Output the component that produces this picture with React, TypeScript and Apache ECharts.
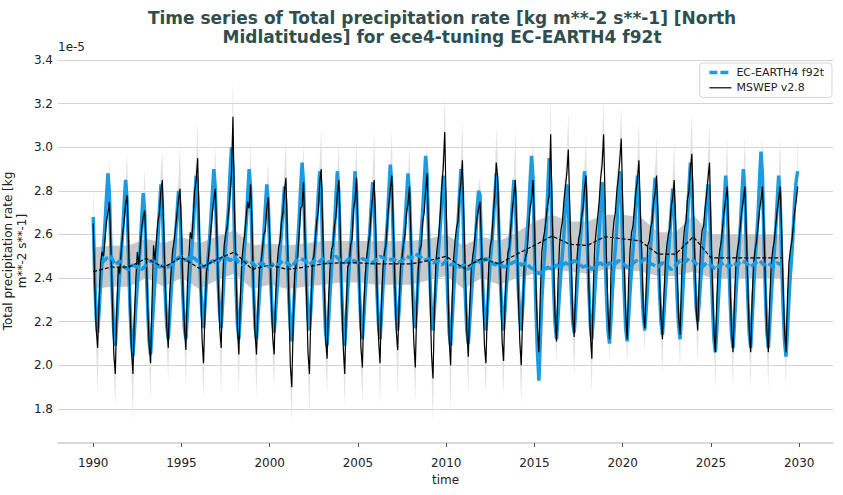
import React, { useEffect, useRef } from "react";
import * as echarts from "echarts";

// ---------- data (units of 1e-5 kg m**-2 s**-1) ----------
const START_YEAR = 1990;
const xTickYears = [1990, 1995, 2000, 2005, 2010, 2015, 2020, 2025, 2030];
const yTickValues = [1.8, 2.0, 2.2, 2.4, 2.6, 2.8, 3.0, 3.2, 3.4];

// EC-EARTH4 f92t, monthly, Jan 1990 .. Dec 2029
const ecEarthMonthly = [
  2.68, 2.40, 2.22, 2.15, 2.25, 2.37, 2.47, 2.55, 2.65, 2.77, 2.88, 2.79,
  2.53, 2.31, 2.15, 2.09, 2.20, 2.32, 2.42, 2.51, 2.61, 2.74, 2.85, 2.76,
  2.49, 2.27, 2.11, 2.04, 2.15, 2.27, 2.37, 2.45, 2.55, 2.68, 2.79, 2.70,
  2.46, 2.26, 2.11, 2.05, 2.16, 2.28, 2.39, 2.48, 2.58, 2.71, 2.83, 2.74,
  2.51, 2.32, 2.18, 2.12, 2.22, 2.34, 2.43, 2.50, 2.59, 2.70, 2.80, 2.72,
  2.49, 2.31, 2.17, 2.12, 2.23, 2.35, 2.45, 2.53, 2.63, 2.76, 2.87, 2.78,
  2.56, 2.37, 2.23, 2.17, 2.27, 2.39, 2.49, 2.57, 2.67, 2.79, 2.90, 2.81,
  2.57, 2.37, 2.23, 2.17, 2.29, 2.42, 2.54, 2.63, 2.73, 2.88, 3.00, 2.90,
  2.60, 2.37, 2.19, 2.12, 2.23, 2.35, 2.46, 2.55, 2.65, 2.78, 2.90, 2.81,
  2.55, 2.34, 2.18, 2.12, 2.22, 2.33, 2.43, 2.51, 2.60, 2.72, 2.83, 2.75,
  2.52, 2.34, 2.20, 2.15, 2.24, 2.35, 2.45, 2.52, 2.61, 2.72, 2.82, 2.74,
  2.50, 2.31, 2.17, 2.11, 2.23, 2.36, 2.47, 2.56, 2.67, 2.81, 2.93, 2.83,
  2.58, 2.38, 2.22, 2.16, 2.26, 2.38, 2.48, 2.56, 2.66, 2.78, 2.89, 2.80,
  2.53, 2.31, 2.15, 2.09, 2.20, 2.33, 2.44, 2.53, 2.63, 2.77, 2.89, 2.79,
  2.52, 2.32, 2.16, 2.09, 2.21, 2.34, 2.45, 2.54, 2.64, 2.76, 2.89, 2.80,
  2.54, 2.34, 2.18, 2.12, 2.22, 2.34, 2.44, 2.52, 2.61, 2.73, 2.84, 2.75,
  2.52, 2.32, 2.18, 2.12, 2.23, 2.36, 2.47, 2.56, 2.66, 2.80, 2.92, 2.82,
  2.58, 2.37, 2.22, 2.16, 2.26, 2.38, 2.48, 2.56, 2.65, 2.77, 2.88, 2.79,
  2.56, 2.37, 2.23, 2.17, 2.28, 2.41, 2.52, 2.61, 2.71, 2.84, 2.96, 2.87,
  2.60, 2.38, 2.22, 2.16, 2.26, 2.37, 2.47, 2.55, 2.64, 2.76, 2.87, 2.79,
  2.52, 2.31, 2.15, 2.09, 2.20, 2.33, 2.45, 2.54, 2.64, 2.78, 2.90, 2.80,
  2.54, 2.32, 2.16, 2.10, 2.20, 2.31, 2.41, 2.49, 2.58, 2.72, 2.80, 2.78,
  2.51, 2.34, 2.21, 2.16, 2.26, 2.38, 2.48, 2.56, 2.65, 2.77, 2.88, 2.79,
  2.56, 2.36, 2.22, 2.16, 2.26, 2.37, 2.46, 2.54, 2.63, 2.75, 2.85, 2.77,
  2.54, 2.35, 2.22, 2.16, 2.27, 2.40, 2.51, 2.60, 2.70, 2.84, 2.96, 2.86,
  2.52, 2.26, 2.06, 1.93, 2.12, 2.30, 2.42, 2.52, 2.64, 2.80, 2.95, 2.84,
  2.58, 2.35, 2.19, 2.12, 2.22, 2.33, 2.43, 2.51, 2.60, 2.72, 2.83, 2.75,
  2.52, 2.34, 2.20, 2.15, 2.25, 2.37, 2.48, 2.56, 2.65, 2.78, 2.89, 2.80,
  2.54, 2.34, 2.18, 2.12, 2.22, 2.34, 2.44, 2.52, 2.61, 2.73, 2.84, 2.75,
  2.51, 2.31, 2.16, 2.10, 2.21, 2.34, 2.45, 2.54, 2.64, 2.77, 2.89, 2.80,
  2.54, 2.33, 2.17, 2.11, 2.22, 2.34, 2.44, 2.53, 2.63, 2.76, 2.87, 2.78,
  2.55, 2.36, 2.22, 2.16, 2.26, 2.37, 2.47, 2.55, 2.64, 2.76, 2.86, 2.78,
  2.54, 2.34, 2.20, 2.14, 2.23, 2.34, 2.44, 2.51, 2.60, 2.71, 2.81, 2.73,
  2.50, 2.31, 2.18, 2.12, 2.23, 2.36, 2.48, 2.57, 2.67, 2.81, 2.93, 2.83,
  2.60, 2.40, 2.26, 2.20, 2.29, 2.39, 2.48, 2.55, 2.63, 2.74, 2.83, 2.75,
  2.48, 2.28, 2.12, 2.06, 2.17, 2.30, 2.42, 2.51, 2.61, 2.75, 2.87, 2.77,
  2.52, 2.30, 2.14, 2.08, 2.20, 2.33, 2.44, 2.53, 2.64, 2.78, 2.90, 2.80,
  2.53, 2.31, 2.15, 2.08, 2.21, 2.35, 2.48, 2.58, 2.69, 2.85, 2.98, 2.87,
  2.58, 2.33, 2.15, 2.08, 2.19, 2.32, 2.43, 2.52, 2.62, 2.75, 2.87, 2.78,
  2.50, 2.27, 2.11, 2.04, 2.16, 2.30, 2.42, 2.51, 2.63, 2.77, 2.85, 2.89,
];

// MSWEP v2.8, monthly, Jan 1990 .. Dec 2029
const mswepMonthly = [
  2.65, 2.38, 2.17, 2.08, 2.29, 2.47, 2.52, 2.50, 2.58, 2.66, 2.70, 2.75,
  2.55, 2.30, 2.05, 1.96, 2.24, 2.45, 2.42, 2.52, 2.60, 2.66, 2.74, 2.78,
  2.57, 2.27, 2.07, 1.96, 2.22, 2.40, 2.52, 2.46, 2.55, 2.63, 2.68, 2.71,
  2.53, 2.27, 2.10, 2.01, 2.30, 2.55, 2.48, 2.58, 2.66, 2.70, 2.80, 2.85,
  2.60, 2.36, 2.18, 2.08, 2.33, 2.44, 2.53, 2.57, 2.63, 2.70, 2.76, 2.81,
  2.62, 2.34, 2.18, 2.07, 2.36, 2.50, 2.61, 2.58, 2.68, 2.80, 2.85, 2.95,
  2.66, 2.39, 2.12, 2.01, 2.25, 2.43, 2.47, 2.55, 2.62, 2.70, 2.76, 2.81,
  2.61, 2.37, 2.17, 2.08, 2.38, 2.55, 2.60, 2.63, 2.70, 2.78, 2.88, 3.14,
  2.72, 2.45, 2.18, 2.05, 2.30, 2.48, 2.55, 2.60, 2.68, 2.75, 2.72, 2.83,
  2.63, 2.34, 2.15, 2.05, 2.26, 2.44, 2.47, 2.53, 2.60, 2.62, 2.72, 2.77,
  2.58, 2.33, 2.13, 2.05, 2.31, 2.46, 2.54, 2.57, 2.66, 2.70, 2.80, 2.86,
  2.60, 2.30, 2.00, 1.90, 2.20, 2.42, 2.47, 2.50, 2.60, 2.72, 2.73, 2.84,
  2.57, 2.33, 2.06, 1.96, 2.25, 2.48, 2.50, 2.58, 2.66, 2.71, 2.84, 2.90,
  2.64, 2.40, 2.12, 2.03, 2.30, 2.45, 2.53, 2.55, 2.64, 2.68, 2.79, 2.85,
  2.61, 2.30, 2.08, 1.96, 2.25, 2.45, 2.47, 2.55, 2.58, 2.72, 2.76, 2.86,
  2.60, 2.36, 2.08, 1.99, 2.27, 2.42, 2.50, 2.56, 2.60, 2.71, 2.77, 2.85,
  2.63, 2.33, 2.12, 2.01, 2.29, 2.45, 2.52, 2.55, 2.66, 2.74, 2.81, 2.87,
  2.64, 2.40, 2.16, 2.07, 2.28, 2.47, 2.50, 2.56, 2.60, 2.70, 2.74, 2.82,
  2.60, 2.30, 2.10, 1.99, 2.28, 2.44, 2.53, 2.55, 2.66, 2.70, 2.80, 2.88,
  2.62, 2.32, 2.05, 1.94, 2.26, 2.48, 2.55, 2.60, 2.70, 2.82, 2.91, 3.07,
  2.72, 2.43, 2.12, 2.00, 2.30, 2.49, 2.57, 2.63, 2.66, 2.78, 2.84, 2.94,
  2.66, 2.40, 2.16, 2.04, 2.27, 2.44, 2.50, 2.55, 2.62, 2.68, 2.72, 2.75,
  2.55, 2.30, 2.09, 2.01, 2.27, 2.47, 2.55, 2.58, 2.70, 2.78, 2.93, 2.86,
  2.60, 2.38, 2.11, 2.02, 2.29, 2.44, 2.52, 2.54, 2.64, 2.72, 2.78, 2.85,
  2.62, 2.33, 2.11, 2.00, 2.24, 2.46, 2.50, 2.52, 2.63, 2.72, 2.76, 2.85,
  2.64, 2.36, 2.17, 2.06, 2.34, 2.52, 2.58, 2.62, 2.68, 2.74, 2.78, 3.06,
  2.70, 2.46, 2.22, 2.11, 2.38, 2.55, 2.62, 2.66, 2.75, 2.82, 2.88, 2.99,
  2.72, 2.48, 2.22, 2.13, 2.36, 2.50, 2.58, 2.61, 2.68, 2.72, 2.81, 2.87,
  2.66, 2.35, 2.14, 2.03, 2.36, 2.55, 2.62, 2.68, 2.75, 2.86, 2.92, 3.06,
  2.76, 2.48, 2.24, 2.12, 2.42, 2.58, 2.66, 2.70, 2.80, 2.86, 2.94, 3.04,
  2.74, 2.47, 2.24, 2.12, 2.39, 2.53, 2.61, 2.64, 2.72, 2.80, 2.85, 2.94,
  2.70, 2.49, 2.25, 2.17, 2.37, 2.55, 2.57, 2.63, 2.66, 2.75, 2.79, 2.87,
  2.67, 2.40, 2.22, 2.12, 2.32, 2.48, 2.55, 2.60, 2.63, 2.73, 2.77, 2.85,
  2.64, 2.43, 2.22, 2.14, 2.40, 2.55, 2.63, 2.66, 2.76, 2.80, 2.90, 2.97,
  2.72, 2.49, 2.25, 2.16, 2.40, 2.55, 2.62, 2.64, 2.72, 2.78, 2.86, 2.93,
  2.62, 2.37, 2.16, 2.06, 2.31, 2.47, 2.53, 2.57, 2.64, 2.71, 2.76, 2.82,
  2.62, 2.37, 2.16, 2.06, 2.31, 2.47, 2.53, 2.57, 2.64, 2.71, 2.76, 2.82,
  2.62, 2.37, 2.16, 2.06, 2.31, 2.47, 2.53, 2.57, 2.64, 2.71, 2.76, 2.82,
  2.62, 2.37, 2.16, 2.06, 2.31, 2.47, 2.53, 2.57, 2.64, 2.71, 2.76, 2.82,
  2.62, 2.37, 2.16, 2.06, 2.31, 2.47, 2.53, 2.57, 2.64, 2.71, 2.76, 2.82,
];

// MSWEP spread, upper edge (monthly)
const mswepHigh = [
  2.87, 2.44, 2.22, 2.12, 2.34, 2.52, 2.57, 2.56, 2.65, 2.74, 2.80, 2.95,
  2.65, 2.36, 2.10, 2.00, 2.29, 2.50, 2.47, 2.58, 2.67, 2.74, 2.84, 2.98,
  2.67, 2.33, 2.12, 2.00, 2.27, 2.45, 2.57, 2.52, 2.62, 2.71, 2.78, 2.90,
  2.63, 2.33, 2.15, 2.05, 2.35, 2.60, 2.53, 2.64, 2.73, 2.78, 2.90, 2.99,
  2.70, 2.42, 2.23, 2.12, 2.38, 2.49, 2.58, 2.63, 2.70, 2.78, 2.86, 3.00,
  2.72, 2.40, 2.23, 2.11, 2.41, 2.55, 2.66, 2.64, 2.75, 2.88, 2.95, 3.12,
  2.76, 2.45, 2.17, 2.05, 2.30, 2.48, 2.52, 2.61, 2.69, 2.78, 2.86, 3.01,
  2.71, 2.43, 2.22, 2.12, 2.43, 2.60, 2.65, 2.69, 2.77, 2.86, 2.98, 3.31,
  2.82, 2.51, 2.23, 2.09, 2.35, 2.53, 2.60, 2.66, 2.75, 2.83, 2.82, 3.03,
  2.73, 2.40, 2.20, 2.09, 2.31, 2.49, 2.52, 2.59, 2.67, 2.70, 2.82, 2.94,
  2.68, 2.39, 2.18, 2.09, 2.36, 2.51, 2.59, 2.63, 2.73, 2.78, 2.90, 3.03,
  2.70, 2.36, 2.05, 1.94, 2.25, 2.47, 2.52, 2.56, 2.67, 2.80, 2.83, 3.02,
  2.67, 2.39, 2.11, 2.00, 2.30, 2.53, 2.55, 2.64, 2.73, 2.79, 2.94, 3.09,
  2.74, 2.46, 2.17, 2.07, 2.35, 2.50, 2.58, 2.61, 2.71, 2.76, 2.89, 3.03,
  2.71, 2.36, 2.13, 2.00, 2.30, 2.50, 2.52, 2.61, 2.65, 2.80, 2.86, 3.03,
  2.70, 2.42, 2.13, 2.03, 2.32, 2.47, 2.55, 2.62, 2.67, 2.79, 2.87, 3.09,
  2.73, 2.39, 2.17, 2.05, 2.34, 2.50, 2.57, 2.61, 2.73, 2.82, 2.91, 3.08,
  2.74, 2.46, 2.21, 2.11, 2.33, 2.52, 2.55, 2.62, 2.67, 2.78, 2.84, 3.02,
  2.70, 2.36, 2.15, 2.03, 2.33, 2.49, 2.58, 2.61, 2.73, 2.78, 2.90, 3.03,
  2.72, 2.38, 2.10, 1.98, 2.31, 2.53, 2.60, 2.66, 2.77, 2.90, 3.01, 3.25,
  2.82, 2.49, 2.17, 2.04, 2.35, 2.54, 2.62, 2.69, 2.73, 2.86, 2.94, 3.13,
  2.76, 2.46, 2.21, 2.08, 2.32, 2.49, 2.55, 2.61, 2.69, 2.76, 2.82, 2.87,
  2.65, 2.36, 2.14, 2.05, 2.32, 2.52, 2.60, 2.64, 2.77, 2.86, 3.09, 2.96,
  2.70, 2.44, 2.16, 2.06, 2.34, 2.49, 2.57, 2.60, 2.71, 2.80, 2.88, 3.08,
  2.72, 2.39, 2.16, 2.04, 2.29, 2.51, 2.55, 2.58, 2.70, 2.80, 2.86, 3.05,
  2.74, 2.42, 2.22, 2.10, 2.39, 2.57, 2.63, 2.68, 2.75, 2.82, 2.88, 3.24,
  2.80, 2.52, 2.27, 2.15, 2.43, 2.60, 2.67, 2.72, 2.82, 2.90, 2.98, 3.16,
  2.82, 2.54, 2.27, 2.17, 2.41, 2.55, 2.63, 2.67, 2.75, 2.80, 2.91, 3.06,
  2.76, 2.41, 2.19, 2.07, 2.41, 2.60, 2.67, 2.74, 2.82, 2.94, 3.02, 3.22,
  2.86, 2.54, 2.29, 2.16, 2.47, 2.63, 2.71, 2.76, 2.87, 2.94, 3.04, 3.19,
  2.84, 2.53, 2.29, 2.16, 2.44, 2.58, 2.66, 2.70, 2.79, 2.88, 2.95, 3.12,
  2.80, 2.55, 2.30, 2.21, 2.42, 2.60, 2.62, 2.69, 2.73, 2.83, 2.89, 3.05,
  2.77, 2.46, 2.27, 2.16, 2.37, 2.53, 2.60, 2.66, 2.70, 2.81, 2.87, 3.03,
  2.74, 2.49, 2.27, 2.18, 2.45, 2.60, 2.68, 2.72, 2.83, 2.88, 3.00, 3.16,
  2.82, 2.55, 2.30, 2.20, 2.45, 2.60, 2.67, 2.70, 2.79, 2.86, 2.96, 3.11,
  2.72, 2.43, 2.21, 2.10, 2.36, 2.52, 2.58, 2.63, 2.71, 2.79, 2.86, 3.05,
  2.72, 2.43, 2.21, 2.10, 2.36, 2.52, 2.58, 2.63, 2.71, 2.79, 2.86, 3.05,
  2.72, 2.43, 2.21, 2.10, 2.36, 2.52, 2.58, 2.63, 2.71, 2.79, 2.86, 3.05,
  2.72, 2.43, 2.21, 2.10, 2.36, 2.52, 2.58, 2.63, 2.71, 2.79, 2.86, 3.05,
  2.72, 2.43, 2.21, 2.10, 2.36, 2.52, 2.58, 2.63, 2.71, 2.79, 2.86, 3.05,
];

// MSWEP spread, lower edge (monthly)
const mswepLow = [
  2.60, 2.32, 2.08, 1.87, 2.21, 2.42, 2.48, 2.46, 2.54, 2.62, 2.66, 2.70,
  2.50, 2.24, 1.96, 1.81, 2.16, 2.40, 2.38, 2.48, 2.56, 2.62, 2.70, 2.73,
  2.52, 2.21, 1.98, 1.74, 2.14, 2.35, 2.48, 2.42, 2.51, 2.59, 2.64, 2.66,
  2.48, 2.21, 2.01, 1.84, 2.22, 2.50, 2.44, 2.54, 2.62, 2.66, 2.76, 2.80,
  2.55, 2.30, 2.09, 1.92, 2.25, 2.39, 2.49, 2.53, 2.59, 2.66, 2.72, 2.76,
  2.57, 2.28, 2.09, 1.90, 2.28, 2.45, 2.57, 2.54, 2.64, 2.76, 2.81, 2.90,
  2.61, 2.33, 2.03, 1.84, 2.17, 2.38, 2.43, 2.51, 2.58, 2.66, 2.72, 2.76,
  2.56, 2.31, 2.08, 1.86, 2.30, 2.50, 2.56, 2.59, 2.66, 2.74, 2.84, 3.09,
  2.67, 2.39, 2.09, 1.86, 2.22, 2.43, 2.51, 2.56, 2.64, 2.71, 2.68, 2.78,
  2.58, 2.28, 2.06, 1.85, 2.18, 2.39, 2.43, 2.49, 2.56, 2.58, 2.68, 2.72,
  2.53, 2.27, 2.04, 1.89, 2.23, 2.41, 2.50, 2.53, 2.62, 2.66, 2.76, 2.81,
  2.55, 2.24, 1.91, 1.74, 2.12, 2.37, 2.43, 2.46, 2.56, 2.68, 2.69, 2.79,
  2.52, 2.27, 1.97, 1.76, 2.17, 2.43, 2.46, 2.54, 2.62, 2.67, 2.80, 2.85,
  2.59, 2.34, 2.03, 1.86, 2.22, 2.40, 2.49, 2.51, 2.60, 2.64, 2.75, 2.80,
  2.56, 2.24, 1.99, 1.81, 2.17, 2.40, 2.43, 2.51, 2.54, 2.68, 2.72, 2.81,
  2.55, 2.30, 1.99, 1.82, 2.19, 2.37, 2.46, 2.52, 2.56, 2.67, 2.73, 2.80,
  2.58, 2.27, 2.03, 1.81, 2.21, 2.40, 2.48, 2.51, 2.62, 2.70, 2.77, 2.82,
  2.59, 2.34, 2.07, 1.86, 2.20, 2.42, 2.46, 2.52, 2.56, 2.66, 2.70, 2.77,
  2.55, 2.24, 2.01, 1.83, 2.20, 2.39, 2.49, 2.51, 2.62, 2.66, 2.76, 2.83,
  2.57, 2.26, 1.96, 1.73, 2.18, 2.43, 2.51, 2.56, 2.66, 2.78, 2.87, 3.02,
  2.67, 2.37, 2.03, 1.79, 2.22, 2.44, 2.53, 2.59, 2.62, 2.74, 2.80, 2.89,
  2.61, 2.34, 2.07, 1.86, 2.19, 2.39, 2.46, 2.51, 2.58, 2.64, 2.68, 2.70,
  2.50, 2.24, 2.00, 1.86, 2.19, 2.42, 2.51, 2.54, 2.66, 2.74, 2.89, 2.81,
  2.55, 2.32, 2.02, 1.86, 2.21, 2.39, 2.48, 2.50, 2.60, 2.68, 2.74, 2.80,
  2.57, 2.27, 2.02, 1.81, 2.16, 2.41, 2.46, 2.48, 2.59, 2.68, 2.72, 2.80,
  2.59, 2.30, 2.08, 1.90, 2.26, 2.47, 2.54, 2.58, 2.64, 2.70, 2.74, 3.01,
  2.65, 2.40, 2.13, 2.01, 2.30, 2.50, 2.58, 2.62, 2.71, 2.78, 2.84, 2.94,
  2.67, 2.42, 2.13, 1.93, 2.28, 2.45, 2.54, 2.57, 2.64, 2.68, 2.77, 2.82,
  2.61, 2.29, 2.05, 1.87, 2.28, 2.50, 2.58, 2.64, 2.71, 2.82, 2.88, 3.01,
  2.71, 2.42, 2.15, 2.01, 2.34, 2.53, 2.62, 2.66, 2.76, 2.82, 2.90, 2.99,
  2.69, 2.41, 2.15, 1.99, 2.31, 2.48, 2.57, 2.60, 2.68, 2.76, 2.81, 2.89,
  2.65, 2.43, 2.16, 2.07, 2.29, 2.50, 2.53, 2.59, 2.62, 2.71, 2.75, 2.82,
  2.62, 2.34, 2.13, 1.96, 2.24, 2.43, 2.51, 2.56, 2.59, 2.69, 2.73, 2.80,
  2.59, 2.37, 2.13, 1.98, 2.32, 2.50, 2.59, 2.62, 2.72, 2.76, 2.86, 2.92,
  2.67, 2.43, 2.16, 2.01, 2.32, 2.50, 2.58, 2.60, 2.68, 2.74, 2.82, 2.88,
  2.57, 2.31, 2.07, 1.89, 2.23, 2.42, 2.49, 2.53, 2.60, 2.67, 2.72, 2.77,
  2.57, 2.31, 2.07, 1.89, 2.23, 2.42, 2.49, 2.53, 2.60, 2.67, 2.72, 2.77,
  2.57, 2.31, 2.07, 1.89, 2.23, 2.42, 2.49, 2.53, 2.60, 2.67, 2.72, 2.77,
  2.57, 2.31, 2.07, 1.89, 2.23, 2.42, 2.49, 2.53, 2.60, 2.67, 2.72, 2.77,
  2.57, 2.31, 2.07, 1.89, 2.23, 2.42, 2.49, 2.53, 2.60, 2.67, 2.72, 2.77,
];

// EC-EARTH4 f92t running mean, quarterly from mid-1990 to Jan 2029
const RUNNING_START = 1990.5;
const ecEarthRunningMean = [
  2.47, 2.49,
  2.50, 2.46, 2.48, 2.45,
  2.44, 2.46, 2.45, 2.44,
  2.46, 2.48, 2.47, 2.45,
  2.46, 2.45, 2.47, 2.49,
  2.50, 2.48, 2.50, 2.49,
  2.47, 2.45, 2.46, 2.48,
  2.47, 2.49, 2.50, 2.48,
  2.50, 2.47, 2.46, 2.48,
  2.47, 2.45, 2.47, 2.46,
  2.45, 2.47, 2.46, 2.48,
  2.47, 2.45, 2.48, 2.49,
  2.48, 2.46, 2.48, 2.47,
  2.49, 2.47, 2.48, 2.50,
  2.48, 2.47, 2.49, 2.48,
  2.47, 2.49, 2.48, 2.47,
  2.48, 2.50, 2.49, 2.48,
  2.49, 2.47, 2.48, 2.50,
  2.49, 2.51, 2.50, 2.48,
  2.49, 2.47, 2.48, 2.46,
  2.48, 2.46, 2.47, 2.45,
  2.46, 2.44, 2.47, 2.48,
  2.47, 2.49, 2.48, 2.46,
  2.47, 2.45, 2.46, 2.47,
  2.48, 2.46, 2.47, 2.45,
  2.44, 2.42, 2.43, 2.45,
  2.44, 2.46, 2.45, 2.47,
  2.46, 2.48, 2.47, 2.45,
  2.46, 2.44, 2.46, 2.47,
  2.45, 2.47, 2.46, 2.48,
  2.47, 2.45, 2.46, 2.48,
  2.47, 2.49, 2.47, 2.46,
  2.45, 2.47, 2.46, 2.44,
  2.46, 2.48, 2.47, 2.49,
  2.48, 2.46, 2.45, 2.47,
  2.46, 2.44, 2.46, 2.47,
  2.45, 2.47, 2.46, 2.48,
  2.47, 2.45, 2.47, 2.48,
  2.46, 2.47, 2.45, 2.47,
  2.46,
];

// MSWEP v2.8 annual mean and its spread, 1990 .. 2029
const mswepAnnualMean = [
  2.43, 2.45, 2.45, 2.49, 2.45, 2.495, 2.445, 2.485, 2.52, 2.44,
  2.46, 2.44, 2.45, 2.465, 2.47, 2.47, 2.465, 2.465, 2.465, 2.48,
  2.50, 2.445, 2.49, 2.465, 2.51, 2.55, 2.593, 2.555, 2.55, 2.59,
  2.58, 2.57, 2.51, 2.51, 2.59, 2.493, 2.493, 2.493, 2.493, 2.493,
];
const mswepAnnualHigh = [
  2.54, 2.55, 2.55, 2.58, 2.56, 2.59, 2.56, 2.59, 2.62, 2.55,
  2.56, 2.55, 2.56, 2.57, 2.57, 2.57, 2.57, 2.57, 2.57, 2.58,
  2.60, 2.55, 2.59, 2.57, 2.61, 2.66, 2.69, 2.66, 2.66, 2.69,
  2.69, 2.68, 2.61, 2.61, 2.69, 2.60, 2.60, 2.60, 2.60, 2.60,
];
const mswepAnnualLow = [
  2.35, 2.36, 2.36, 2.40, 2.36, 2.40, 2.35, 2.39, 2.42, 2.35,
  2.37, 2.35, 2.36, 2.37, 2.38, 2.38, 2.37, 2.37, 2.37, 2.39,
  2.41, 2.35, 2.40, 2.37, 2.40, 2.42, 2.44, 2.43, 2.42, 2.44,
  2.44, 2.43, 2.41, 2.41, 2.43, 2.40, 2.40, 2.40, 2.40, 2.40,
];

// ---------- helpers ----------
const monthX = (i: number) => START_YEAR + i / 12;
const yearX = (i: number) => START_YEAR + i;
const monthly = (arr: number[]) => arr.map((v, i) => [monthX(i), v]);
const annual = (arr: number[]) => arr.map((v, i) => [yearX(i), v]);
const quarterly = (arr: number[]) => arr.map((v, i) => [RUNNING_START + i / 4, v]);

const FONT = "DejaVu Sans, Verdana, sans-serif";
const BLUE = "#1a9be2";

function bandSeries(
  name: string,
  low: number[],
  high: number[],
  xOf: (i: number) => number,
  fill: string
) {
  return {
    name,
    type: "custom",
    silent: true,
    data: [[xOf(0), low[0]]],
    encode: { x: 0, y: 1 },
    renderItem: (_params: any, api: any) => {
      const top = high.map((v, i) => api.coord([xOf(i), v]));
      const bottom = low.map((v, i) => api.coord([xOf(i), v])).reverse();
      return {
        type: "polygon",
        shape: { points: top.concat(bottom) },
        style: { fill, stroke: null },
      };
    },
  };
}

export default function App() {
  const ref = useRef<HTMLDivElement>(null);

  useEffect(() => {
    if (!ref.current) return;
    const chart = echarts.init(ref.current, undefined, { renderer: "svg" });

    chart.setOption({
      animation: false,
      backgroundColor: "#ffffff",
      textStyle: { fontFamily: FONT },
      grid: {
        left: 58,
        right: 10,
        top: 60,
        bottom: 52,
        containLabel: false,
        outerBoundsMode: "none",
      },
      graphic: [
        {
          type: "text",
          x: 442,
          y: 8,
          style: {
            text:
              "Time series of Total precipitation rate [kg m**-2 s**-1] [North\nMidlatitudes] for ece4-tuning EC-EARTH4 f92t",
            textAlign: "center",
            font: "bold 17px " + FONT,
            fill: "#2f4f4f",
            lineHeight: 19,
          },
        },
        {
          type: "text",
          x: 58,
          y: 41,
          style: { text: "1e-5", font: "12px " + FONT, fill: "#222" },
        },
        {
          type: "text",
          x: 15,
          y: 251,
          rotation: Math.PI / 2,
          style: {
            text: "Total precipitation rate [kg\nm**-2 s**-1]",
            font: "12px " + FONT,
            fill: "#222",
            textAlign: "center",
            textVerticalAlign: "middle",
            lineHeight: 14,
          },
        },
      ],
      legend: {
        data: [{ name: "EC-EARTH4 f92t" }, { name: "MSWEP v2.8" }],
        orient: "vertical",
        right: 11,
        top: 63,
        padding: [4, 8, 4, 8],
        itemGap: 4,
        itemWidth: 22,
        itemHeight: 14,
        backgroundColor: "#ffffff",
        borderColor: "#d6d6d6",
        borderWidth: 1,
        borderRadius: 3,
        itemStyle: { opacity: 0 },
        lineStyle: { width: "inherit" },
        textStyle: { fontSize: 11, color: "#222", fontFamily: FONT },
      },
      xAxis: {
        type: "value",
        min: 1988.004,
        max: 2031.913,
        name: "time",
        nameLocation: "middle",
        nameGap: 25,
        nameTextStyle: { fontSize: 12, color: "#222", fontFamily: FONT },
        axisLine: { show: true, lineStyle: { color: "#cccccc", width: 1.5 } },
        axisTick: {
          show: true,
          customValues: xTickYears,
          length: 4,
          lineStyle: { color: "#555555", width: 1 },
        },
        axisLabel: {
          customValues: xTickYears,
          formatter: (v: number) => String(Math.round(v)),
          fontSize: 12,
          color: "#222",
          margin: 14,
          fontFamily: FONT,
        },
        splitLine: { show: false },
      },
      yAxis: {
        type: "value",
        min: 1.644,
        max: 3.4,
        axisLine: { show: false },
        axisTick: { show: false, customValues: yTickValues },
        axisLabel: {
          customValues: yTickValues,
          formatter: (v: number) => v.toFixed(1),
          fontSize: 12,
          color: "#222",
          margin: 5,
          fontFamily: FONT,
        },
        splitLine: { show: true, lineStyle: { color: "#d3d3d3", width: 1.2 } },
      },
      series: [
        bandSeries("MSWEP spread", mswepLow, mswepHigh, monthX, "#e1e1e1"),
        bandSeries("MSWEP annual spread", mswepAnnualLow, mswepAnnualHigh, yearX, "#c8c8c8"),
        {
          name: "EC-EARTH4 f92t monthly",
          type: "line",
          data: monthly(ecEarthMonthly),
          symbol: "none",
          lineStyle: { color: BLUE, width: 3.5 },
          itemStyle: { color: BLUE },
        },
        {
          name: "MSWEP v2.8",
          type: "line",
          data: monthly(mswepMonthly),
          symbol: "none",
          lineStyle: { color: "#000000", width: 1.2 },
          itemStyle: { color: "#000000" },
        },
        {
          name: "EC-EARTH4 f92t",
          type: "line",
          data: quarterly(ecEarthRunningMean),
          symbol: "none",
          lineStyle: { color: BLUE, width: 3.5, type: [8, 3] },
          itemStyle: { color: BLUE },
        },
        {
          name: "MSWEP v2.8 annual",
          type: "line",
          data: annual(mswepAnnualMean),
          symbol: "none",
          lineStyle: { color: "#000000", width: 1.2, type: [4, 2] },
          itemStyle: { color: "#000000" },
        },
      ],
    });

    return () => chart.dispose();
  }, []);

  return (
    <div
      ref={ref}
      style={{ position: "absolute", left: 0, top: 0, width: 843, height: 495 }}
    />
  );
}
